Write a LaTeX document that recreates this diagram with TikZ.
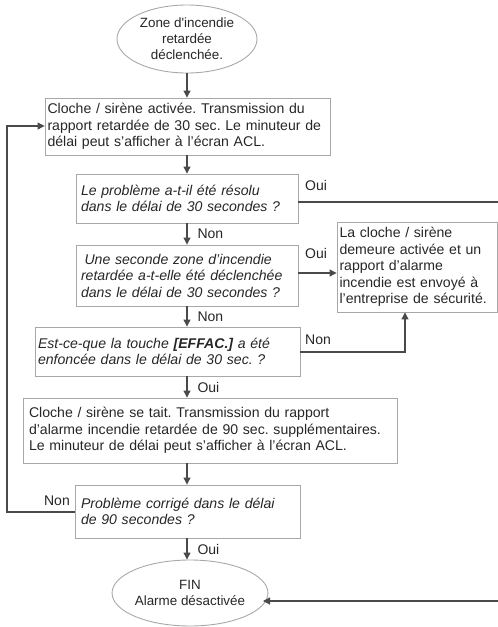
\documentclass[tikz,border=0pt]{standalone}
\usepackage{fontspec}
\setmainfont{Liberation Sans}
\usetikzlibrary{arrows.meta,shapes.geometric}
\definecolor{boxgray}{HTML}{A8A8A8}
\definecolor{linegray}{HTML}{4A4A4A}
\newcommand{\boxfont}{\fontsize{14.1}{16.5}\selectfont\frenchspacing}
\tikzset{
  box/.style={draw=boxgray, line width=0.9pt, rectangle, align=left, inner sep=0pt,
    font=\boxfont, text=black!85},
  qbox/.style={box, font=\boxfont\itshape},
  oval/.style={draw=boxgray, line width=0.9pt, ellipse, align=center, inner sep=0pt,
    font=\fontsize{13.4}{16}\selectfont, text=black!85},
  conn/.style={draw=linegray, line width=1.1pt},
  arr/.style={conn, -{Triangle[length=7pt,width=7pt]}},
  lab/.style={font=\fontsize{14}{15}\selectfont, text=black!85, inner sep=0pt}
}
\begin{document}
\begin{tikzpicture}[x=1pt,y=-1pt]
\useasboundingbox (0,0) rectangle (498,627);
% nodes
\node[oval, minimum width=140, minimum height=68] (e1) at (187,39)
  {Zone d\textquotesingle incendie\\retardée\\déclenchée.};
\node[box, minimum width=285, minimum height=57, text width=280] (b1) at (187.5,126.5)
  {Cloche / sirène activée. Transmission du\\rapport retardée de 30 sec. Le minuteur de\\délai peut s’afficher à l’écran ACL.};
\node[qbox, minimum width=222, minimum height=49, text width=212] (b2) at (187,198.5)
  {Le problème a-t-il été résolu\\dans le délai de 30 secondes ?};
\node[qbox, minimum width=222, minimum height=61, text width=212] (b3) at (187,275.5)
  {\hspace{3.5pt}Une seconde zone d’incendie\\retardée a-t-elle été déclenchée\\dans le délai de 30 secondes ?};
\node[qbox, minimum width=265, minimum height=49, text width=259] (b4) at (167.5,351.5)
  {Est-ce-que la touche \textbf{[EFFAC.]} a été\\enfoncée dans le délai de 30 sec. ?};
\node[box, minimum width=160, minimum height=90, text width=155] (b5) at (417,267)
  {La cloche / sirène\\demeure activée et un\\rapport d’alarme\\incendie est envoyé à\\l’entreprise de sécurité.};
\node[box, minimum width=374, minimum height=65, text width=362] (b6) at (210,430.5)
  {Cloche / sirène se tait. Transmission du rapport\\d’alarme incendie retardée de 90 sec. supplémentaires.\\Le minuteur de délai peut s’afficher à l’écran ACL.};
\node[qbox, minimum width=225, minimum height=53, text width=213] (b7) at (187.5,511.5)
  {Problème corrigé dans le délai\\de 90 secondes ?};
\node[oval, minimum width=145, minimum height=66] (e2) at (190,593)
  {FIN\\Alarme désactivée};
% free ends and helper points
\coordinate (mx) at (187,0);
\coordinate (r1) at (498,202);
\coordinate (r2) at (498,601);
\coordinate (c5) at (405,352);
\coordinate (lft) at (7,512);
\coordinate (lftt) at (7,126);
% vertical connectors
\draw[arr] (mx |- e1.south) -- (mx |- b1.north);
\draw[arr] (mx |- b1.south) -- (mx |- b2.north);
\draw[arr] (mx |- b2.south) -- (mx |- b3.north) node[lab, anchor=west, pos=0.5, xshift=10pt] {Non};
\draw[arr] (mx |- b3.south) -- (mx |- b4.north) node[lab, anchor=west, pos=0.5, xshift=10pt] {Non};
\draw[arr] (mx |- b4.south) -- (mx |- b6.north) node[lab, anchor=west, pos=0.5, xshift=10pt] {Oui};
\draw[arr] (mx |- b6.south) -- (mx |- b7.north);
\draw[arr] (mx |- b7.south) -- (mx |- e2.north) node[lab, anchor=west, pos=0.5, xshift=10pt] {Oui};
% right connectors
\draw[conn] (b2.east |- r1) -- (r1);
\node[lab, anchor=west] at (305,185) {Oui};
\draw[arr] (b3.east |- 0,273) -- (b5.west |- 0,273);
\node[lab, anchor=west] at (305,253) {Oui};
\draw[arr] (b4.east |- c5) -- (c5) -- (c5 |- b5.south);
\node[lab, anchor=west] at (305,340) {Non};
\draw[arr] (r2) -- (263,601);
% left loop
\draw[arr] (b7.west |- lft) -- (lft) -- (lftt) -- (b1.west |- lftt);
\node[lab, anchor=east] at (70,501) {Non};
\end{tikzpicture}
\end{document}
